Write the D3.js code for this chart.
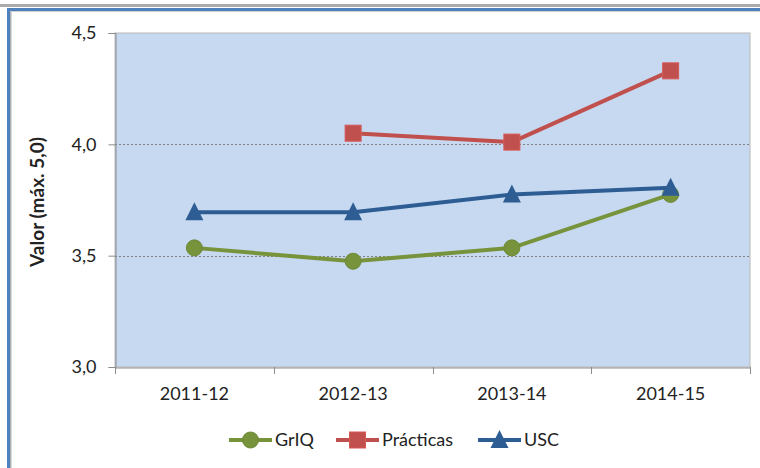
<!DOCTYPE html>
<html>
<head>
<meta charset="utf-8">
<script src="https://cdn.jsdelivr.net/npm/d3@7"></script>
<style>
  html, body { margin: 0; padding: 0; background: #fff; }
  svg { display: block; }
  text { font-family: Lato, "Open Sans", sans-serif; fill: #222; }
</style>
</head>
<body>
<svg id="chart" width="760" height="468"></svg>
<script>
// Academic years on the x axis
const categories = ["2011-12", "2012-13", "2013-14", "2014-15"];

// Survey scores (max. 5,0); null = no data for that year
const grIQ = [3.535, 3.475, 3.535, 3.775];
const practicas = [null, 4.05, 4.01, 4.33];
const usc = [3.695, 3.695, 3.775, 3.805];

const yTicks = [3.0, 3.5, 4.0, 4.5];
const seriesNames = ["GrIQ", "Prácticas", "USC"];

const series = [
  { name: seriesNames[0], values: grIQ, color: "#77933C", marker: "circle" },
  { name: seriesNames[1], values: practicas, color: "#C0504D", marker: "square" },
  { name: seriesNames[2], values: usc, color: "#2E5D93", marker: "triangle" }
];

const svg = d3.select("#chart");
const W = 760, H = 468;
const plot = { left: 115, right: 750, top: 33, bottom: 367 };

// Outer frame lines
svg.append("rect").attr("x", 0).attr("y", 4).attr("width", W).attr("height", 3).attr("fill", "#ABABAB");
svg.append("rect").attr("x", 7).attr("y", 8).attr("width", W - 7).attr("height", 3).attr("fill", "#4F81BD");
svg.append("rect").attr("x", 7).attr("y", 8).attr("width", 3).attr("height", H - 8).attr("fill", "#4F81BD");
svg.append("rect").attr("x", 10).attr("y", 11).attr("width", 1.5).attr("height", H - 11).attr("fill", "#B0B0B0");
svg.append("rect").attr("x", 10).attr("y", 11).attr("width", W - 10).attr("height", 1).attr("fill", "#D0D0D0");

const x = d3.scaleBand().domain(categories).range([plot.left, plot.right]);
const y = d3.scaleLinear().domain([3.0, 4.5]).range([plot.bottom, plot.top]);

// Plot background
svg.append("rect")
  .attr("x", plot.left).attr("y", plot.top)
  .attr("width", plot.right - plot.left).attr("height", plot.bottom - plot.top)
  .attr("fill", "#C6D9F1")
  .attr("stroke", "#B8B8B8").attr("stroke-width", 1);

// Horizontal gridlines
svg.append("g").selectAll("line")
  .data(yTicks.filter(t => t > 3.0 && t < 4.5))
  .join("line")
  .attr("x1", plot.left).attr("x2", plot.right)
  .attr("y1", d => Math.round(y(d)) + 0.5).attr("y2", d => Math.round(y(d)) + 0.5)
  .attr("stroke", "#808080").attr("stroke-width", 1).attr("stroke-dasharray", "2,2");

// Y axis
const yAxis = d3.axisLeft(y).tickValues(yTicks)
  .tickFormat(d => d3.format(".1f")(d).replace(".", ","))
  .tickSize(7).tickPadding(12);
const gy = svg.append("g").attr("transform", `translate(${plot.left + 0.5},0)`).call(yAxis);
gy.select(".domain").attr("stroke", "#8C8C8C");
gy.selectAll(".tick line").attr("stroke", "#8C8C8C");
gy.selectAll("text").attr("font-size", 18).attr("fill", "#222")
  .style("font-family", "Lato, sans-serif");

// X axis with ticks at category boundaries
const xAxis = d3.axisBottom(x).tickSize(0).tickPadding(20);
const gx = svg.append("g").attr("transform", `translate(0,${plot.bottom + 0.5})`).call(xAxis);
gx.select(".domain").attr("stroke", "#8C8C8C");
gx.selectAll("text").attr("font-size", 18).attr("fill", "#222")
  .style("font-family", "Lato, sans-serif");
const bounds = categories.map(c => x(c)).concat([x(categories[categories.length - 1]) + x.bandwidth()]);
svg.append("g").selectAll("line").data(bounds).join("line")
  .attr("x1", d => Math.round(d) + 0.5).attr("x2", d => Math.round(d) + 0.5)
  .attr("y1", plot.bottom).attr("y2", plot.bottom + 7)
  .attr("stroke", "#8C8C8C");

// Y axis title
svg.append("text")
  .attr("transform", `translate(44,${(plot.top + plot.bottom) / 2 + 2}) rotate(-90)`)
  .attr("text-anchor", "middle")
  .attr("font-size", 19).attr("font-weight", "bold").attr("fill", "#000")
  .text("Valor (máx. 5,0)");

const cx = c => x(c) + x.bandwidth() / 2;

function drawMarker(g, type, color, px, py) {
  if (type === "circle") {
    g.append("circle").attr("cx", px).attr("cy", py).attr("r", 8)
      .attr("fill", color).attr("stroke", d3.color(color).darker(0.2)).attr("stroke-width", 1);
  } else if (type === "square") {
    g.append("rect").attr("x", px - 8).attr("y", py - 8).attr("width", 16).attr("height", 16)
      .attr("fill", color).attr("stroke", d3.color(color).brighter(0.3)).attr("stroke-width", 1);
  } else {
    const s = 9;
    g.append("path")
      .attr("d", `M${px},${py - s - 1}L${px + s},${py + s - 1}L${px - s},${py + s - 1}Z`)
      .attr("fill", color);
  }
}

// Series lines and markers
series.forEach(s => {
  const pts = categories.map((c, i) => ({ c, v: s.values[i] })).filter(p => p.v != null);
  const line = d3.line().x(p => cx(p.c)).y(p => y(p.v));
  const g = svg.append("g");
  g.append("path").datum(pts).attr("d", line)
    .attr("fill", "none").attr("stroke", s.color).attr("stroke-width", 4)
    .attr("stroke-linejoin", "round");
  pts.forEach(p => drawMarker(g, s.marker, s.color, cx(p.c), y(p.v)));
});

// Legend
const legendY = 440;
const legendX = [229, 336, 478];
series.forEach((s, i) => {
  const g = svg.append("g");
  const x0 = legendX[i];
  g.append("line").attr("x1", x0).attr("x2", x0 + 43).attr("y1", legendY).attr("y2", legendY)
    .attr("stroke", s.color).attr("stroke-width", 4);
  drawMarker(g, s.marker, s.color, x0 + 21.5, legendY);
  g.append("text").attr("x", x0 + 46).attr("y", legendY).attr("dy", "0.35em")
    .attr("font-size", 18).attr("fill", "#222").text(s.name);
});
</script>
</body>
</html>
